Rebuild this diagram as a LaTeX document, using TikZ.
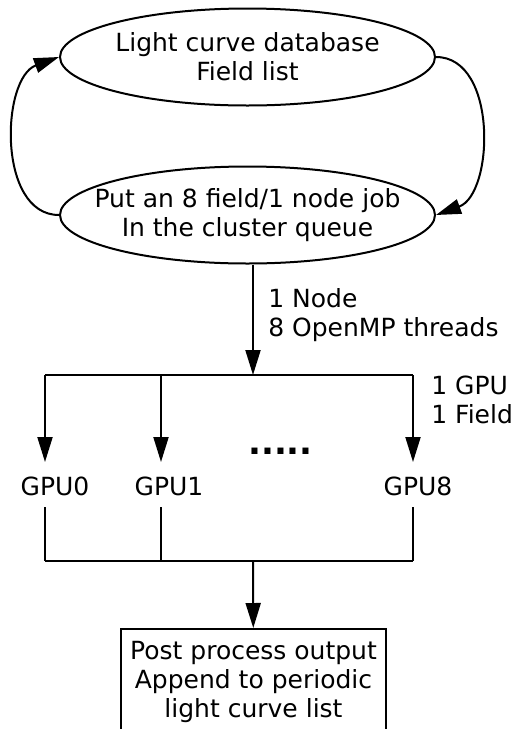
\documentclass[tikz,border=0pt]{standalone}
\usepackage{fontspec}
\setmainfont{DejaVu Sans}
\usetikzlibrary{shapes.geometric,arrows.meta}

\begin{document}
\begin{tikzpicture}[x=1pt,y=-1pt,line width=2pt,
        every node/.style={font=\fontsize{25}{29}\selectfont,align=center},
        blob/.style={draw,ellipse,minimum width=375,minimum height=97,inner xsep=-30pt,inner ysep=-15pt},
        arr/.style={-{Triangle[length=25pt,width=15pt]}}]
        \useasboundingbox (0,0) rectangle (517,729);
        \clip (0,0) rectangle (517,729);
        \node[blob] (db) at (247.5,57) {Light curve database\\Field list};
        \node[blob] (queue) at (247.5,215) {Put an 8 field/1 node job\\In the cluster queue};
        \draw[arr] (db.east) .. controls +(62,0) and +(58,-21) .. (queue.east);
        \draw[arr] (queue.west) .. controls +(-62,0) and +(-58,21) .. (db.west);
        \coordinate (split) at (253,375);
        \draw[arr] (queue.south -| split) -- (split);
        \node[anchor=west,align=left] (nodeinfo) at (264,315.5) {1 Node\\8 OpenMP threads};
        \foreach \x/\n/\l in {45/0/55,161/1/169,413/8/418} {
                \coordinate (b\n) at (\x,375);
                \coordinate (t\n) at (\x,462);
                \coordinate (u\n) at (\x,507);
                \coordinate (j\n) at (\x,561);
                \draw[arr] (b\n) -- (t\n);
                \node (gpu\n) at (\l,486) {GPU\n};
                \draw (u\n) -- (j\n);
        }
        \draw (b0) -- (b8);
        \draw (j0) -- (j8);
        \node[anchor=west,align=left] (gpuinfo) at (427,400) {1 GPU\\1 Field};
        \node[font=\fontsize{34}{34}\selectfont\bfseries] (dots) at (280.5,451) {.....};
        \coordinate (merge) at (253,561);
        \node[draw,minimum width=265,minimum height=106,anchor=north] (post) at (253.5,628) {Post process output\\Append to periodic\\light curve list};
        \draw[arr] (merge) -- (post);
    \end{tikzpicture}
\end{document}
